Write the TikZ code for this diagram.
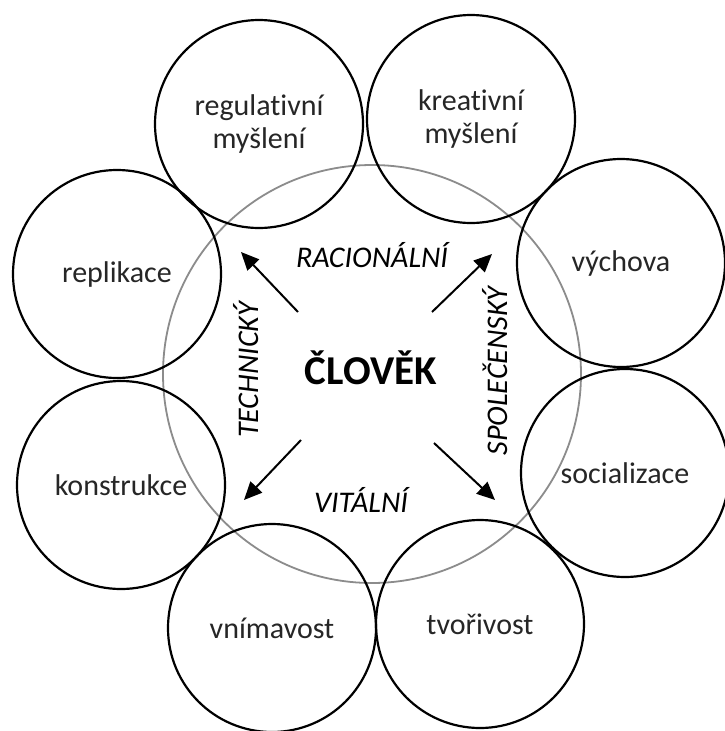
\documentclass[tikz,border=0pt]{standalone}
\usepackage{fontspec}
\setmainfont[Ligatures={NoCommon}]{Carlito}
\usetikzlibrary{arrows.meta}
\definecolor{txt}{HTML}{262626}
\begin{document}
\begin{tikzpicture}[x=1pt,y=-1pt,
  outer/.style={circle,draw=black,line width=2.2pt,minimum size=208pt,inner sep=0pt,
    align=center,font=\fontsize{30}{33}\selectfont,text=txt},
  side/.style={font=\fontsize{30}{33}\selectfont\itshape,text=black,inner sep=0pt,anchor=base},
  arr/.style={line width=2pt,-{Triangle[length=18pt,width=16pt]}}]
\useasboundingbox[fill=white] (0,0) rectangle (724,731);
% central grey circle
\node[circle,draw=black!45,line width=1.8pt,minimum size=418pt,inner sep=0pt] (core) at (372,374) {};
% outer circles
\node[outer] (reg) at (259,124) {regulativní\\myšlení};
\node[outer] (kre) at (471,119) {kreativní\\myšlení};
\node[outer] (vych) at (621,263) {výchova};
\node[outer] (soc) at (625,473) {socializace};
\node[outer] (tvo) at (480,624) {tvořivost};
\node[outer] (vni) at (272,628) {vnímavost};
\node[outer] (kon) at (121,485) {konstrukce};
\node[outer] (rep) at (117,274) {replikace};
% texts
\node[font=\fontsize{41}{45}\selectfont\bfseries,inner sep=0pt,anchor=base] (clovek) at (371,384) {ČLOVĚK};
\node[side] (rac) at (372,267) {RACIONÁLNÍ};
\node[side] (vit) at (361,512) {VITÁLNÍ};
\node[side,rotate=90] (tech) at (258,370) {TECHNICKÝ};
\node[side,rotate=90] (spol) at (507,371) {SPOLEČENSKÝ};
% arrows
\coordinate (a1s) at (298,312); \coordinate (a1e) at (241,252);
\coordinate (a2s) at (432,312); \coordinate (a2e) at (492,254);
\coordinate (a3s) at (301,440); \coordinate (a3e) at (244,500);
\coordinate (a4s) at (434,443); \coordinate (a4e) at (495,500);
\draw[arr] (a1s) -- (a1e);
\draw[arr] (a2s) -- (a2e);
\draw[arr] (a3s) -- (a3e);
\draw[arr] (a4s) -- (a4e);
\end{tikzpicture}
\end{document}
